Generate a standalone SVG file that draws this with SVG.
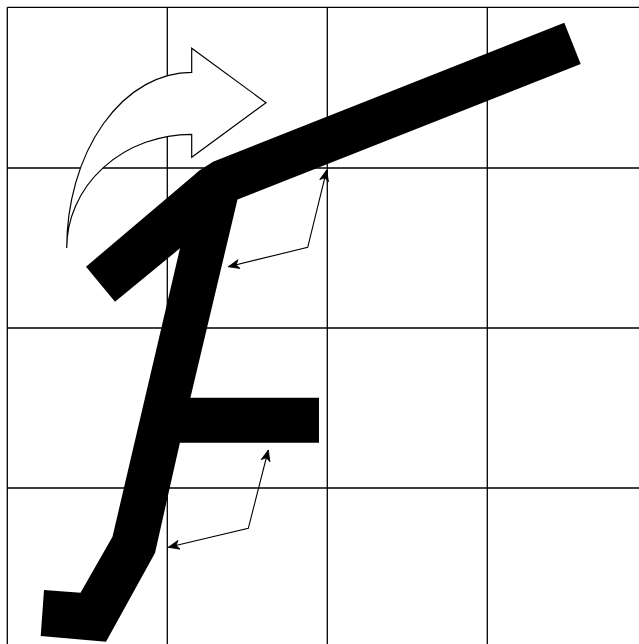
<svg xmlns="http://www.w3.org/2000/svg" width="639" height="644" viewBox="0 0 639 644">
  <style>
    .grid { stroke: #000; stroke-width: 1.3; fill: none; }
    .glyph { fill: #000; stroke: none; }
    .bend { fill: #fff; stroke: #000; stroke-width: 1.2; }
    .conn { fill: none; stroke: #000; stroke-width: 1.1; marker-start: url(#ah); marker-end: url(#ah); }
  </style>
  <defs>
    <marker id="ah" viewBox="-12 -6 13 12" refX="0" refY="0" markerWidth="13" markerHeight="12" markerUnits="userSpaceOnUse" orient="auto-start-reverse">
      <path d="M0,0 L-11,-4.5 L-8,0 L-11,4.5 Z" fill="#000" stroke="#000" stroke-width="0.8" stroke-linejoin="miter"/>
    </marker>
  </defs>
  <rect x="0" y="0" width="639" height="644" fill="#fff"/>
  <g id="grid" class="grid">
    <path d="M7.3,7.3 V650 M167.3,7.3 V650 M327.3,7.3 V650 M487.3,7.3 V650"/>
    <path d="M7.3,7.3 H650 M7.3,168 H650 M7.3,328 H650 M7.3,488 H650"/>
  </g>
  <g id="curved-arrow">
    <path class="bend" d="M66.7,248 A125,176 0 0 1 191.7,72.3 L191.7,48.3 L266,102.7 L191.7,157.3 L191.7,134.3 A125,113.7 0 0 0 66.7,248 Z"/>
  </g>
  <g id="glyph">
    <path class="glyph" d="M86,266.7 L193,176 L199,170.8 L206,166.2 L213,161.8 L564.3,22.7 L580.7,64 L237.5,199.5 L190.4,397.7 L319,397.7 L319,442.7 L179.9,442.7 L155,553 L106,641.7 L40.7,636 L44,590 L80.5,592.7 L112.5,536.7 L180,248.3 L115,301.7 Z"/>
  </g>
  <g id="connectors">
    <polyline class="conn" points="228.3,266.7 307.7,247.3 326.7,170"/>
    <polyline class="conn" points="168.3,547.3 248.3,528.3 268.3,450"/>
  </g>
</svg>
